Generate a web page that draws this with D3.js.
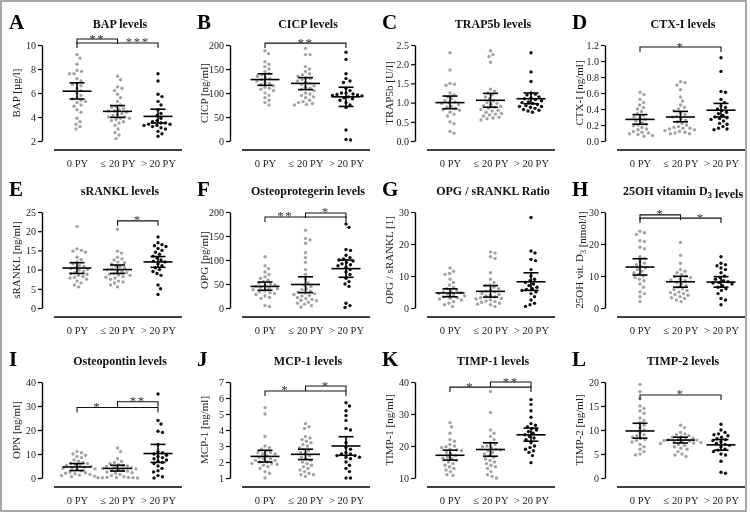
<!DOCTYPE html>
<html><head><meta charset="utf-8">
<script src="https://cdn.jsdelivr.net/npm/d3@7"></script>
<style>
body{margin:0;background:#fff}
svg{display:block;will-change:transform}
text{font-family:"Liberation Serif","Times New Roman",serif}
</style>
</head><body>
<svg id="chart" width="750" height="518"></svg>
<script>
const categories = ["0 PY", "≤ 20 PY", "> 20 PY"];
const letters = ["A","B","C","D","E","F","G","H","I","J","K","L"];
const titles = ["BAP levels","CICP levels","TRAP5b levels","CTX-I levels","sRANKL levels","Osteoprotegerin levels","OPG / sRANKL Ratio","25OH vitamin D|3| levels","Osteopontin levels","MCP-1 levels","TIMP-1 levels","TIMP-2 levels"];
const yTitles = ["BAP [µg/l]","CICP [ng/ml]","TRAP5b [U/l]","CTX-I [ng/ml]","sRANKL [ng/ml]","OPG [pg/ml]","OPG / sRANKL [1]","25OH vit. D|3| [nmol/l]","OPN [ng/ml]","MCP-1 [ng/ml]","TIMP-1 [ng/ml]","TIMP-2 [ng/ml]"];
const yTicks = [
  [2,4,6,8,10],[0,50,100,150,200],[0,0.5,1,1.5,2,2.5],[0,0.2,0.4,0.6,0.8,1,1.2],
  [0,5,10,15,20,25],[0,50,100,150,200],[0,10,20,30],[0,10,20,30],
  [0,10,20,30,40],[1,2,3,4,5,6,7],[10,20,30,40],[0,5,10,15,20]];
const tickDecimals = [0,0,1,1,0,0,0,0,0,0,0,0];

const means = [[6.15,4.47,4.05],[128,120,92],[1.0,1.06,1.1],[0.27,0.30,0.385],[10.4,10.0,12.0],[45,49,82],[4.7,5.2,8.2],[12.8,8.2,8.1],[4.6,4.0,10.2],[2.35,2.48,3.0],[17.1,18.9,23.5],[9.8,7.9,6.9]];
const ciLow = [[5.5,3.97,3.5],[116,107,72],[0.84,0.88,0.97],[0.21,0.24,0.30],[9.0,9.0,10.6],[37,32,64],[3.5,3.4,5.5],[10.3,6.5,6.5],[3.1,2.9,6.5],[2.0,2.15,2.42],[15.6,16.8,21.5],[8.3,7.3,5.8]];
const ciHigh = [[6.85,4.95,4.65],[140,132,112],[1.17,1.24,1.25],[0.33,0.37,0.47],[11.8,11.2,13.4],[54,65,100],[6.0,7.0,11.0],[15.4,9.9,9.8],[6.0,5.3,14.0],[2.73,2.8,3.58],[18.7,21.0,25.6],[11.4,8.5,8.0]];

const pointsA = [
  [9.2,8.9,8.4,7.9,7.8,7.6,7.6,7.2,7.0,6.8,6.7,6.6,6.4,6.2,6.0,5.8,5.6,5.5,5.4,5.3,5.2,5.0,4.9,4.6,4.4,3.9,3.6,3.4,3.2,3.0],
  [7.4,7.1,6.5,6.4,6.2,5.9,5.6,5.3,5.0,4.9,4.8,4.7,4.6,4.5,4.5,4.4,4.3,4.2,4.1,4.0,4.0,3.9,3.9,3.8,3.7,3.6,3.5,3.3,3.0,2.7,2.5,2.2],
  [7.6,7.0,5.9,5.7,5.3,5.0,4.6,4.3,4.1,3.9,3.7,3.6,3.5,3.5,3.4,3.4,3.3,3.3,3.2,3.1,3.0,2.8,2.6,2.4]];
const pointsB = [
  [188,182,165,160,155,150,145,140,138,135,132,130,128,125,122,120,118,115,112,110,108,105,100,95,90,85,80,75],
  [193,180,180,155,150,145,140,138,135,132,130,128,125,122,120,118,115,112,110,108,105,100,98,95,92,90,85,82,80,78,76,75],
  [185,170,140,130,125,122,110,105,100,100,98,97,96,95,94,92,90,88,85,80,75,70,23,3,2]];
const pointsC = [
  [2.3,1.85,1.5,1.48,1.45,1.25,1.2,1.15,1.1,1.05,1.02,1.0,0.98,0.95,0.9,0.88,0.85,0.82,0.8,0.75,0.7,0.65,0.5,0.45,0.25,0.2],
  [2.35,2.25,2.2,2.05,1.35,1.3,1.25,1.2,1.15,1.1,1.05,1.0,0.98,0.95,0.92,0.9,0.88,0.85,0.82,0.8,0.78,0.75,0.72,0.7,0.68,0.65,0.62,0.6,0.58,0.55],
  [2.3,1.8,1.55,1.25,1.22,1.2,1.15,1.12,1.1,1.08,1.05,1.02,1.0,0.98,0.95,0.92,0.9,0.9,0.88,0.85,0.82,0.8,0.78,0.75]];
const pointsD = [
  [0.61,0.58,0.52,0.48,0.45,0.42,0.40,0.37,0.34,0.32,0.30,0.28,0.27,0.25,0.23,0.21,0.20,0.19,0.17,0.15,0.14,0.12,0.11,0.10,0.09,0.08,0.07,0.06],
  [0.74,0.73,0.70,0.64,0.55,0.50,0.45,0.42,0.40,0.38,0.35,0.33,0.31,0.30,0.28,0.26,0.24,0.22,0.20,0.18,0.17,0.16,0.16,0.15,0.14,0.13,0.12,0.11,0.10,0.09,0.09],
  [1.04,0.87,0.62,0.61,0.52,0.48,0.44,0.42,0.40,0.38,0.36,0.34,0.32,0.30,0.29,0.28,0.27,0.25,0.22,0.21,0.18,0.16,0.15,0.14]];
const pointsE = [
  [21.2,15.4,15.0,14.8,14.5,13.2,12.6,12.0,11.5,11.0,10.8,10.5,10.3,10.0,9.8,9.5,9.2,9.0,8.8,8.5,8.2,8.0,7.8,7.5,7.0,6.5,6.0,5.5],
  [20.5,14.8,14.3,13.2,12.8,12.5,12.0,11.8,11.5,11.0,10.8,10.5,10.2,10.0,9.8,9.5,9.2,9.0,8.8,8.6,8.5,8.2,8.0,7.8,7.5,7.0,6.8,6.5,6.0,5.5],
  [18.5,17.0,16.5,16.2,16.0,15.5,15.0,14.5,14.0,13.5,13.0,12.5,12.2,12.0,11.5,11.0,10.5,10.0,9.5,9.0,8.5,6.0,5.0,3.5]];
const pointsF = [
  [107,88,82,75,70,65,62,58,55,52,50,48,46,45,43,41,40,38,36,34,32,30,28,25,22,20,5,3],
  [162,145,142,135,115,105,95,80,70,60,52,48,45,40,38,35,33,31,30,28,26,25,22,20,18,16,15,12,10,8,5,2],
  [175,168,122,120,110,105,102,100,98,95,92,90,88,85,80,75,70,62,55,50,45,10,5,1]];
const pointsG = [
  [12.5,11.5,10.8,10.5,9.0,8.0,7.2,6.5,6.0,5.5,5.2,5.0,4.8,4.5,4.2,4.0,3.8,3.5,3.2,3.0,2.8,2.5,2.0,1.5,1.0,0.5],
  [17.5,17.2,16.0,15.5,11.0,9.0,8.0,7.2,7.0,6.5,6.0,5.5,5.2,5.0,4.5,4.2,4.0,3.8,3.5,3.2,3.0,2.8,2.5,2.2,2.0,1.8,1.5,1.2,1.0,0.5],
  [28.3,17.8,17.2,15.2,14.8,12.0,10.0,9.0,8.5,8.0,7.5,7.0,6.5,6.0,5.8,5.5,5.0,4.5,3.5,2.5,1.5,1.0,0.5]];
const pointsH = [
  [24.0,23.5,23.0,21.0,20.8,19.0,18.5,16.0,15.5,14.5,14.0,13.5,13.0,12.5,12.0,11.5,11.0,10.5,10.0,9.5,9.0,8.5,7.5,6.5,5.0,4.5,3.5,2.0],
  [20.5,16.5,14.0,12.0,11.5,11.0,10.5,10.0,9.8,9.5,9.0,8.8,8.5,8.0,7.5,7.0,6.5,6.0,5.8,5.5,5.0,4.8,4.5,4.2,4.0,3.5,3.2,3.0,2.5,2.0],
  [16.0,14.0,13.5,13.2,12.5,12.0,11.0,10.0,9.5,9.0,8.5,8.2,8.0,7.8,7.5,7.0,6.5,6.0,5.5,4.5,3.0,2.5,1.0]];
const pointsI = [
  [11.0,10.5,10.0,9.5,9.0,8.5,7.5,7.0,6.5,6.2,6.0,5.5,5.2,5.0,4.8,4.5,4.2,4.0,3.8,3.5,3.0,2.5,2.2,2.0,1.8,1.5,1.2,1.0,0.8,0.5],
  [12.5,11.0,8.0,7.0,6.5,6.0,5.5,5.2,5.0,4.8,4.5,4.2,4.0,3.8,3.5,3.2,3.0,2.8,2.5,2.2,2.0,1.5,1.0,0.5,0.3,0.2,0.2,0.1,0.1,0.1,0.0],
  [35.0,24.0,22.5,19.5,19.0,14.0,11.0,10.5,10.0,9.5,9.0,8.5,8.0,7.5,7.0,6.5,6.0,5.0,4.0,3.0,2.5,1.0,0.5,0.0]];
const pointsJ = [
  [5.4,5.0,3.6,3.0,2.9,2.8,2.7,2.6,2.6,2.5,2.5,2.4,2.3,2.2,2.2,2.1,2.1,2.0,2.0,1.9,1.9,1.85,1.8,1.7,1.6,1.4,1.3,1.0],
  [4.4,4.2,4.1,3.6,3.5,3.4,3.3,3.2,3.1,3.0,2.9,2.8,2.7,2.6,2.5,2.4,2.3,2.2,2.1,2.0,1.9,1.8,1.7,1.6,1.5,1.4,1.3,1.2,1.2,1.1],
  [5.7,5.5,5.2,4.9,4.6,4.1,4.0,3.2,2.9,2.8,2.6,2.5,2.5,2.4,2.4,2.3,2.3,2.2,2.0,1.8,1.6,1.4,1.0,1.0]];
const pointsK = [
  [27.3,26.0,24.0,22.0,21.5,20.5,20.0,19.8,19.5,19.0,18.8,18.5,18.0,17.5,17.0,16.5,16.2,16.0,15.5,15.0,14.5,14.0,13.5,13.0,12.5,12.0,11.0,10.8],
  [37.0,30.5,25.0,24.0,23.0,22.0,21.0,20.5,20.0,19.8,19.5,19.0,18.8,18.5,18.0,17.5,17.0,16.5,16.0,15.5,15.0,14.5,14.0,13.5,13.0,12.0,11.0,10.5,10.0],
  [34.5,33.0,31.0,29.0,27.0,26.5,26.0,25.5,25.0,24.5,24.0,23.5,23.0,22.5,22.0,21.0,20.0,19.5,19.0,18.5,18.0,17.0,14.8]];
const pointsL = [
  [19.5,18.0,16.5,15.0,14.5,14.0,13.5,12.5,12.0,11.5,11.0,10.5,10.0,9.5,9.0,8.8,8.5,8.2,8.0,7.8,7.5,7.0,6.5,6.0,5.5,5.0,4.8],
  [11.0,10.5,9.5,9.2,9.0,8.8,8.6,8.5,8.3,8.2,8.0,8.0,7.9,7.8,7.7,7.6,7.5,7.4,7.3,7.2,7.0,6.8,6.5,6.2,6.0,5.5,5.0,4.8,4.5],
  [11.2,10.0,9.5,9.2,9.0,8.8,8.5,8.2,8.0,7.8,7.5,7.2,7.0,6.8,6.5,6.0,5.8,5.5,5.0,4.8,3.5,1.2,1.0]];
const allPoints = [pointsA,pointsB,pointsC,pointsD,pointsE,pointsF,pointsG,pointsH,pointsI,pointsJ,pointsK,pointsL];

// significance brackets: from/to category index, label, label position (category units), level (data units)
const brackets = [
  [{from:0,to:1,label:"**",at:0.5,level:10.5},{from:0,to:2,label:"***",at:1.5,level:10.17}],
  [{from:0,to:2,label:"**",at:1,level:204}],
  [],
  [{from:0,to:2,label:"*",at:1,level:1.175}],
  [{from:1,to:2,label:"*",at:1.5,level:22.7}],
  [{from:0,to:2,label:"**",at:0.5,level:189.6},{from:1,to:2,label:"*",at:1.5,level:198}],
  [],
  [{from:0,to:1,label:"*",at:0.5,level:29.1},{from:0,to:2,label:"*",at:1.5,level:28.1}],
  [{from:0,to:2,label:"*",at:0.5,level:29.4},{from:1,to:2,label:"**",at:1.5,level:31.8}],
  [{from:0,to:2,label:"*",at:0.5,level:6.44},{from:1,to:2,label:"*",at:1.5,level:6.75}],
  [{from:0,to:2,label:"*",at:0.5,level:38.4},{from:1,to:2,label:"**",at:1.5,level:40}],
  [{from:0,to:2,label:"*",at:1,level:17.3}]
];

const svg = d3.select("#chart");
const colX = [0, 188, 373, 563];
const rowY = [0, 167, 337];
const dotColors = ["#a3a3a3","#a3a3a3","#111"];

function addSubText(sel, str, subSize) {
  str.split("|").forEach((part, k) => {
    if (!part) return;
    if (k % 2 === 1) {
      sel.append("tspan").attr("dy", 3).attr("font-size", subSize).text(part);
      sel.append("tspan").attr("dy", -3).text("");
    } else sel.append("tspan").text(part);
  });
}

function swarm(vals, yScale, cx) {
  const pts = vals.map(v => ({v, y: yScale(v)})).sort((a,b) => a.y - b.y);
  const placed = [];
  const d = 4.4;
  for (const p of pts) {
    let found = false;
    for (let k = 0; k < 140 && !found; k++) {
      const off = k === 0 ? 0 : (k % 2 ? 1 : -1) * Math.ceil(k/2) * 0.5;
      const xx = cx + off;
      if (placed.every(q => (q.x-xx)*(q.x-xx) + (q.y-p.y)*(q.y-p.y) >= d*d)) { p.x = xx; found = true; }
    }
    if (!found) p.x = cx;
    placed.push(p);
  }
  return placed;
}

letters.forEach((letter, i) => {
  const g = svg.append("g").attr("transform", `translate(${colX[i%4]},${rowY[Math.floor(i/4)]})`);
  const axisX = 42;
  const ticks = yTicks[i];
  const y = d3.scaleLinear().domain(d3.extent(ticks)).range([141, 45]);
  const x = d3.scalePoint().domain(categories).range([77, 158]);
  const xAt = t => x(categories[0]) + t * (x(categories[1]) - x(categories[0]));

  g.append("text").attr("x", 9).attr("y", 29).attr("font-size", 21).attr("font-weight", "bold").attr("fill", "#000").text(letter);
  const tt = g.append("text").attr("x", 120).attr("y", 28).attr("text-anchor", "middle")
    .attr("font-size", 12).attr("font-weight", "bold").attr("fill", "#111");
  addSubText(tt, titles[i], 9);

  const yAxis = d3.axisLeft(y).tickValues(ticks).tickSize(4).tickSizeOuter(0).tickPadding(2)
    .tickFormat(d3.format(tickDecimals[i] ? ".1f" : "d"));
  const ya = g.append("g").attr("transform", `translate(${axisX},0)`).call(yAxis);
  ya.select(".domain").attr("stroke", "#000").attr("stroke-width", 1.4);
  ya.selectAll(".tick line").attr("stroke", "#000").attr("stroke-width", 1.2);
  ya.selectAll(".tick text").attr("font-family", "Liberation Serif, serif").attr("font-size", 10).attr("fill", "#222");

  const yt = g.append("text").attr("transform", `translate(${axisX-22},${(141+45)/2}) rotate(-90)`)
    .attr("text-anchor", "middle").attr("font-size", 11).attr("fill", "#222");
  addSubText(yt, yTitles[i], 8);

  g.append("line").attr("x1", 54).attr("x2", 182).attr("y1", 150).attr("y2", 150).attr("stroke", "#000").attr("stroke-width", 1.5);
  const xa = g.append("g").attr("transform", "translate(0,150)").call(d3.axisBottom(x).tickSize(0).tickPadding(10));
  xa.select(".domain").remove();
  xa.selectAll(".tick text").attr("font-family", "Liberation Serif, serif").attr("font-size", 10.5).attr("fill", "#222");

  allPoints[i].forEach((vals, c) => {
    const pts = swarm(vals, y, x(categories[c]));
    g.append("g").selectAll("circle").data(pts).join("circle")
      .attr("cx", d => d.x).attr("cy", d => d.y).attr("r", 1.7).attr("fill", dotColors[c]);
  });

  categories.forEach((cat, c) => {
    const cx = x(cat);
    const eg = g.append("g").attr("stroke", "#000").attr("stroke-width", 1.6);
    eg.append("line").attr("x1", cx-14.5).attr("x2", cx+14.5).attr("y1", y(means[i][c])).attr("y2", y(means[i][c]));
    eg.append("line").attr("x1", cx).attr("x2", cx).attr("y1", y(ciLow[i][c])).attr("y2", y(ciHigh[i][c]));
    eg.append("line").attr("x1", cx-7.5).attr("x2", cx+7.5).attr("y1", y(ciLow[i][c])).attr("y2", y(ciLow[i][c]));
    eg.append("line").attr("x1", cx-7.5).attr("x2", cx+7.5).attr("y1", y(ciHigh[i][c])).attr("y2", y(ciHigh[i][c]));
  });

  brackets[i].forEach(b => {
    const yb = y(b.level);
    const x0 = x(categories[b.from]), x1 = x(categories[b.to]);
    g.append("path").attr("d", `M${x0},${yb+5}V${yb}H${x1}V${yb+5}`)
      .attr("fill", "none").attr("stroke", "#111").attr("stroke-width", 1.1);
    g.append("text").attr("x", xAt(b.at)).attr("y", yb + 3.5).attr("text-anchor", "middle")
      .attr("font-size", 13).attr("letter-spacing", 1.5).attr("fill", "#333").text(b.label);
  });
});

svg.append("rect").attr("x", 1).attr("y", 1).attr("width", 745).attr("height", 510)
  .attr("fill", "none").attr("stroke", "#8a8a8a").attr("stroke-width", 1.5);
</script>
</body></html>
